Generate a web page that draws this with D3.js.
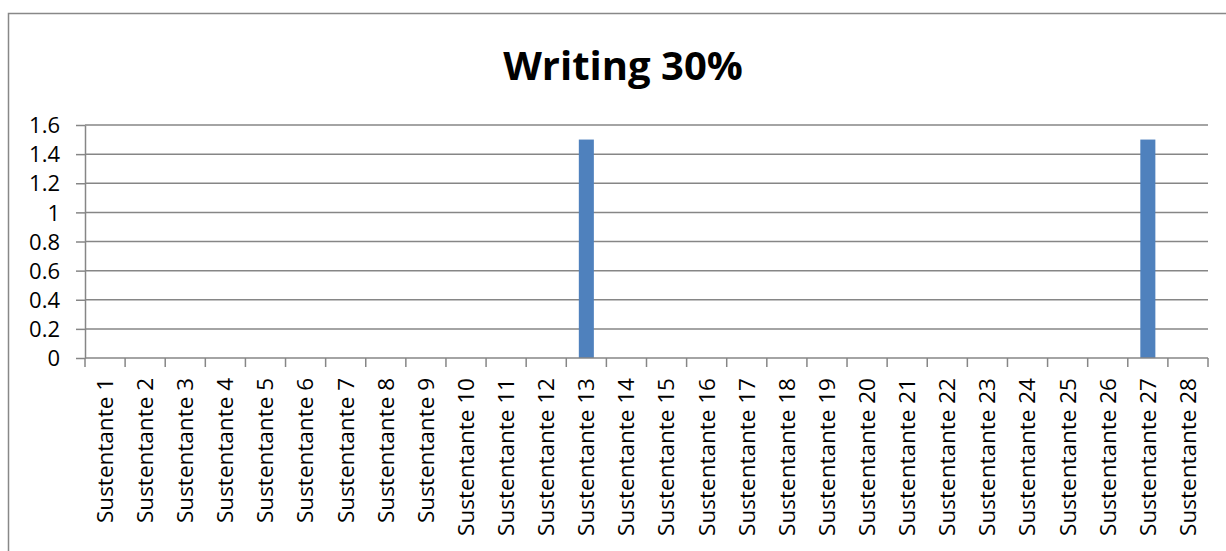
<!DOCTYPE html>
<html lang="en">
<head>
  <meta charset="UTF-8">
  <title>Writing 30%</title>
  <script src="https://d3js.org/d3.v7.min.js"></script>
  <style>
    body { margin: 0; background: #fff; }
    text { font-family: "Open Sans", "Noto Sans", sans-serif; fill: #000; }
    .grid line, .axis path, .axis line { stroke: #868686; stroke-width: 1.5; }
  </style>
</head>
<body>

<svg id="chart" width="1226" height="551"></svg>

<script>
  // values
  var categories = d3.range(1, 29).map(function (i) { return 'Sustentante ' + i; });
  var values = [0, 0, 0, 0, 0, 0, 0, 0, 0, 0, 0, 0, 1.5, 0, 0, 0, 0, 0, 0, 0, 0, 0, 0, 0, 0, 0, 1.5, 0];
  var yTicks = [0, 0.2, 0.4, 0.6, 0.8, 1, 1.2, 1.4, 1.6];

  var svg = d3.select('#chart');
  var plotLeft = 85, plotRight = 1208, plotTop = 125, plotBottom = 358;

  // chart frame
  svg.append('rect')
    .attr('x', 8.5).attr('y', 13.5)
    .attr('width', 1230).attr('height', 560)
    .attr('fill', 'none').attr('stroke', '#888').attr('stroke-width', 1.5);

  svg.append('text')
    .attr('x', 623).attr('y', 80)
    .attr('text-anchor', 'middle')
    .style('font-size', '40px').style('font-weight', 'bold')
    .text('Writing 30%');

  var x = d3.scaleBand().domain(categories).range([plotLeft, plotRight])
    .paddingInner(0.625).paddingOuter(0.3125);
  var y = d3.scaleLinear().domain([0, 1.6]).range([plotBottom, plotTop]);

  // gridlines
  svg.append('g').attr('class', 'grid')
    .selectAll('line')
    .data(yTicks.slice(1))
    .enter()
    .append('line')
    .attr('x1', plotLeft).attr('x2', plotRight)
    .attr('y1', function (d) { return y(d); })
    .attr('y2', function (d) { return y(d); });

  // bars
  svg.append('g')
    .selectAll('rect')
    .data(values)
    .enter()
    .append('rect')
    .attr('x', function (d, i) { return x(categories[i]); })
    .attr('width', x.bandwidth())
    .attr('y', function (d) { return y(d); })
    .attr('height', function (d) { return plotBottom - y(d); })
    .attr('fill', '#4F81BD');

  // y axis
  var yAxis = svg.append('g').attr('class', 'axis')
    .attr('transform', 'translate(' + plotLeft + ',0)')
    .call(d3.axisLeft(y).tickValues(yTicks).tickFormat(d3.format('')).tickSize(9).tickSizeOuter(0).tickPadding(16));
  yAxis.selectAll('text').style('font-size', '22px').attr('dy', '0.35em');

  // x axis with tick marks between categories
  var xEdge = d3.scaleLinear().domain([0, categories.length]).range([plotLeft, plotRight]);
  var xAxis = svg.append('g').attr('class', 'axis')
    .attr('transform', 'translate(0,' + plotBottom + ')');
  xAxis.append('line').attr('x1', plotLeft).attr('x2', plotRight);
  xAxis.selectAll('line.tick')
    .data(d3.range(0, categories.length + 1))
    .enter()
    .append('line')
    .attr('class', 'tick')
    .attr('x1', function (d) { return xEdge(d); })
    .attr('x2', function (d) { return xEdge(d); })
    .attr('y1', 0).attr('y2', 9);
  xAxis.selectAll('text')
    .data(categories)
    .enter()
    .append('text')
    .attr('transform', function (d) {
      return 'translate(' + (x(d) + x.bandwidth() / 2) + ',20) rotate(-90)';
    })
    .attr('dy', '0.35em')
    .attr('text-anchor', 'end')
    .style('font-size', '22.5px')
    .text(function (d) { return d; });
</script>

</body>
</html>
